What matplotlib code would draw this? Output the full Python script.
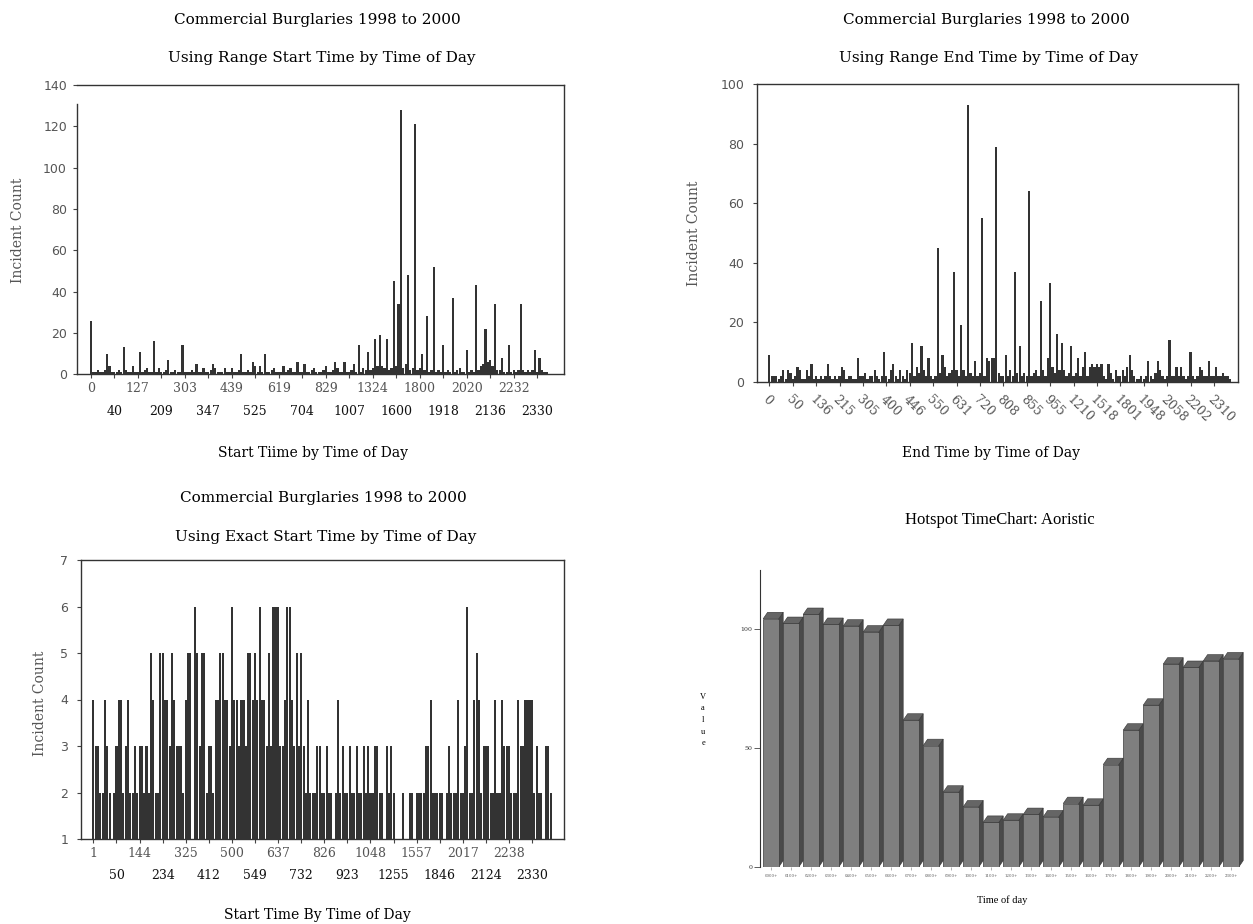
import numpy as np
import matplotlib.pyplot as plt
from matplotlib.patches import Polygon

W, H = 1253, 924

# incident counts per distinct time value (ten values between labelled ticks)
start_range_counts = [
    26, 1, 1, 2, 1, 1, 2, 10, 4, 1,
    1, 1, 2, 1, 13, 2, 1, 1, 4, 1,
    1, 11, 1, 2, 3, 1, 1, 16, 1, 3,
    1, 1, 2, 7, 1, 1, 2, 1, 1, 14,
    1, 1, 1, 2, 1, 5, 1, 1, 3, 1,
    1, 2, 5, 3, 1, 1, 1, 3, 1, 1,
    3, 1, 1, 2, 10, 1, 1, 2, 1, 6,
    4, 1, 4, 1, 10, 1, 1, 2, 3, 1,
    1, 1, 4, 1, 2, 3, 1, 1, 6, 1,
    1, 5, 1, 1, 2, 3, 1, 1, 1, 2,
    4, 1, 1, 2, 6, 3, 1, 1, 6, 1,
    1, 2, 5, 1, 14, 1, 3, 2, 11, 2,
    3, 17, 4, 19, 4, 3, 17, 2, 3, 45,
    4, 34, 128, 3, 5, 48, 2, 3, 121, 2,
    3, 10, 2, 28, 1, 2, 52, 1, 2, 1,
    14, 1, 2, 1, 37, 1, 2, 3, 1, 1,
    12, 1, 2, 1, 43, 2, 4, 5, 22, 6,
    7, 4, 34, 2, 2, 8, 1, 1, 14, 1,
    2, 1, 2, 34, 2, 1, 2, 1, 2, 12,
    1, 8, 2, 1, 1,
]
start_range_labels = ["0", "40", "127", "209", "303", "347", "439", "525", "619", "704",
                      "829", "1007", "1324", "1600", "1800", "1918", "2020", "2136", "2232", "2330"]

end_range_counts = [
    9, 2, 2, 2, 1, 2, 4, 1, 4, 3,
    1, 2, 5, 4, 1, 1, 4, 2, 6, 1,
    2, 1, 2, 1, 2, 6, 2, 1, 2, 1,
    2, 5, 4, 1, 2, 2, 1, 1, 8, 2,
    2, 3, 1, 2, 2, 4, 2, 1, 2, 10,
    2, 1, 4, 6, 2, 1, 4, 2, 1, 4,
    3, 13, 2, 5, 3, 12, 4, 2, 8, 2,
    1, 2, 45, 3, 9, 5, 2, 3, 4, 37,
    4, 2, 19, 4, 2, 93, 3, 2, 7, 2,
    3, 55, 2, 8, 7, 8, 8, 79, 3, 2,
    2, 9, 2, 4, 2, 37, 3, 12, 2, 3,
    2, 64, 2, 3, 4, 2, 27, 4, 2, 8,
    33, 5, 3, 16, 4, 13, 4, 2, 3, 12,
    2, 3, 8, 2, 5, 10, 2, 5, 6, 5,
    6, 5, 6, 2, 1, 6, 3, 1, 4, 2,
    2, 4, 2, 5, 9, 4, 2, 1, 1, 2,
    1, 2, 7, 2, 1, 3, 7, 4, 2, 1,
    2, 14, 2, 2, 5, 2, 5, 2, 1, 2,
    10, 2, 1, 2, 5, 4, 2, 2, 7, 2,
    2, 5, 2, 2, 3, 2, 2, 1,
]
end_range_labels = ["0", "50", "136", "215", "305", "400", "446", "550", "631", "720",
                    "808", "855", "955", "1210", "1518", "1801", "1948", "2058", "2202", "2310"]

exact_start_counts = [
    4, 3, 3, 2, 2, 4, 3, 2, 1, 2,
    3, 4, 4, 2, 3, 4, 2, 2, 3, 2,
    3, 3, 2, 3, 2, 5, 4, 2, 2, 5,
    5, 4, 4, 3, 5, 4, 3, 3, 3, 2,
    4, 5, 5, 1, 6, 5, 3, 5, 5, 2,
    3, 3, 2, 4, 4, 5, 5, 4, 4, 3,
    6, 4, 4, 3, 4, 4, 3, 5, 5, 4,
    5, 4, 6, 4, 4, 3, 5, 3, 6, 6,
    6, 3, 3, 4, 6, 6, 4, 3, 5, 3,
    5, 3, 2, 4, 2, 2, 2, 3, 3, 2,
    2, 3, 2, 2, 1, 2, 4, 2, 3, 2,
    2, 3, 2, 2, 3, 2, 2, 3, 2, 3,
    2, 2, 3, 3, 2, 2, 1, 3, 2, 3,
    2, 1, 1, 1, 2, 1, 1, 2, 2, 1,
    2, 2, 2, 2, 3, 3, 4, 2, 2, 2,
    2, 2, 1, 2, 3, 2, 2, 2, 4, 2,
    2, 3, 6, 2, 2, 4, 5, 4, 2, 3,
    3, 3, 2, 2, 4, 2, 2, 4, 3, 3,
    3, 2, 2, 2, 4, 3, 3, 4, 4, 4,
    4, 2, 3, 2, 2, 1, 3, 3, 2,
]
exact_start_labels = ["1", "50", "144", "234", "325", "412", "500", "549", "637", "732",
                      "826", "923", "1048", "1255", "1557", "1846", "2017", "2124", "2238", "2330"]

# aoristic weighting per hour of the day
hour_values = [104.5, 102.5, 106.3, 102.1, 101.4, 98.9, 101.7, 61.8, 51.1, 31.5, 25.3, 18.8,
               19.7, 22.1, 21.1, 26.7, 26.0, 43.1, 57.6, 68.1, 85.4, 84.0, 86.7, 87.6]
hour_labels = ["0000+", "0100+", "0200+", "0300+", "0400+", "0500+", "0600+", "0700+",
               "0800+", "0900+", "1000+", "1100+", "1200+", "1300+", "1400+", "1500+",
               "1600+", "1700+", "1800+", "1900+", "2000+", "2100+", "2200+", "2300+"]

plt.rcParams["font.family"] = "DejaVu Serif"
fig = plt.figure(figsize=(W / 100, H / 100), dpi=100)

BAR = "#333333"
GREY = "#555555"
STEP = 10


def axes_px(left, top, right, bottom):
    return fig.add_axes([left / W, 1 - bottom / H, (right - left) / W, (bottom - top) / H])


def fig_text(x, y, s, **kw):
    fig.text(x / W, 1 - y / H, s, ha="center", va="center", **kw)


def frame(ax):
    for sp in ax.spines.values():
        sp.set_color("#333333")
        sp.set_linewidth(1.0)


def y_ticks(ax, ticks, pad):
    ax.set_yticks(ticks)
    ax.tick_params(axis="y", length=3, width=0.8, color="#444444", pad=pad,
                   labelsize=9, labelcolor=GREY)
    for t in ax.get_yticklabels():
        t.set_fontfamily("DejaVu Sans")


def two_row_ticks(ax, labels, pad_top, pad_bottom):
    pos = np.arange(len(labels)) * STEP
    ax.set_xticks(pos[0::2])
    ax.set_xticklabels(labels[0::2])
    ax.set_xticks(pos[1::2], minor=True)
    ax.set_xticklabels(labels[1::2], minor=True)
    ax.tick_params(axis="x", which="major", length=3, width=0.8, color="#444444",
                   pad=pad_top, labelsize=9, labelcolor=GREY)
    ax.tick_params(axis="x", which="minor", length=3, width=0.8, color="#444444",
                   pad=pad_bottom, labelsize=9, labelcolor="#111111")


# --- range start time ---
ax1 = axes_px(76.7, 85, 564, 374.3)
x1 = np.arange(len(start_range_counts))
ax1.bar(x1, start_range_counts, width=0.95, color=BAR, linewidth=0)
ax1.set_xlim(-6.0, 201.4)
ax1.set_ylim(0, 140)
frame(ax1)
ax1.spines["left"].set_bounds(0, 131)
y_ticks(ax1, np.arange(0, 141, 20), 4)
two_row_ticks(ax1, start_range_labels, 2.9, 19.4)
fig_text(317, 20, "Commercial Burglaries 1998 to 2000", fontsize=11)
fig_text(322, 58, "Using Range Start Time by Time of Day", fontsize=11)
fig_text(313, 453, "Start Tiime by Time of Day", fontsize=10)
fig_text(18, 230, "Incident Count", fontsize=10, rotation=90, color=GREY)

# --- range end time ---
ax2 = axes_px(756.7, 84, 1238, 381.7)
x2 = np.arange(len(end_range_counts))
ax2.bar(x2, end_range_counts, width=0.95, color=BAR, linewidth=0)
ax2.set_xlim(-5.4, 200.3)
ax2.set_ylim(0, 100)
frame(ax2)
y_ticks(ax2, np.arange(0, 101, 20), 6)
ax2.set_xticks(np.arange(len(end_range_labels)) * STEP)
ax2.set_xticklabels(end_range_labels, rotation=-45, ha="left", va="top",
                    rotation_mode="anchor")
ax2.tick_params(axis="x", length=3, width=0.8, color="#444444", pad=5,
                labelsize=9, labelcolor=GREY)
fig_text(986, 20, "Commercial Burglaries 1998 to 2000", fontsize=11)
fig_text(989, 58, "Using Range End Time by Time of Day", fontsize=11)
fig_text(991, 453, "End Time by Time of Day", fontsize=10)
fig_text(694, 233, "Incident Count", fontsize=10, rotation=90, color=GREY)

# --- exact start time ---
ax3 = axes_px(80.7, 560, 564, 839)
x3 = np.arange(len(exact_start_counts))
ax3.bar(x3, exact_start_counts, width=0.88, color=BAR, linewidth=0)
ax3.set_xlim(-5.5, 203.8)
ax3.set_ylim(1, 7)
frame(ax3)
y_ticks(ax3, np.arange(1, 8), 6)
two_row_ticks(ax3, exact_start_labels, 2.9, 18.7)
fig_text(323, 498, "Commercial Burglaries 1998 to 2000", fontsize=11)
fig_text(326, 537, "Using Exact Start Time by Time of Day", fontsize=11)
fig_text(317, 915, "Start Time By Time of Day", fontsize=10)
fig_text(40, 703, "Incident Count", fontsize=10, rotation=90, color=GREY)

# --- aoristic hourly chart with pseudo 3D bars ---
ax4 = axes_px(760, 570, 1251, 867)
hx = np.arange(len(hour_values))
bw, ddx, ddy = 0.78, 0.22, 2.7
ax4.bar(hx, hour_values, width=bw, color="#7f7f7f", edgecolor="#3a3a3a",
        linewidth=0.5, zorder=3)
for x, v in zip(hx, hour_values):
    l, r = x - bw / 2, x + bw / 2
    ax4.add_patch(Polygon([(r, 0), (r + ddx, ddy), (r + ddx, v + ddy), (r, v)],
                          closed=True, facecolor="#4a4a4a", edgecolor="#333333",
                          linewidth=0.4, zorder=2))
    ax4.add_patch(Polygon([(l, v), (r, v), (r + ddx, v + ddy), (l + ddx, v + ddy)],
                          closed=True, facecolor="#656565", edgecolor="#333333",
                          linewidth=0.4, zorder=4))
ax4.set_xlim(-0.55, 24.0)
ax4.set_ylim(0, 125)
for side in ("top", "right", "bottom"):
    ax4.spines[side].set_visible(False)
ax4.spines["left"].set_color("#333333")
ax4.spines["left"].set_linewidth(0.8)
ax4.set_yticks([0, 50, 100])
ax4.tick_params(axis="y", length=4, width=0.6, color="#444444", pad=1.5,
                labelsize=4.5, labelcolor="#333333")
ax4.set_xticks(hx)
ax4.set_xticklabels(hour_labels)
ax4.tick_params(axis="x", length=2, width=0.4, color="#777777", pad=3,
                labelsize=2.8, labelcolor="#555555")
fig_text(1000, 520, "Hotspot TimeChart: Aoristic", fontsize=12, family="Liberation Serif")
fig_text(1002, 900, "Time of day", fontsize=7.5, family="Liberation Serif")
fig_text(703, 720, "V\na\nl\nu\ne", fontsize=6, family="Liberation Serif",
         linespacing=1.6)

fig.savefig("out.png", dpi=100, facecolor="white")
